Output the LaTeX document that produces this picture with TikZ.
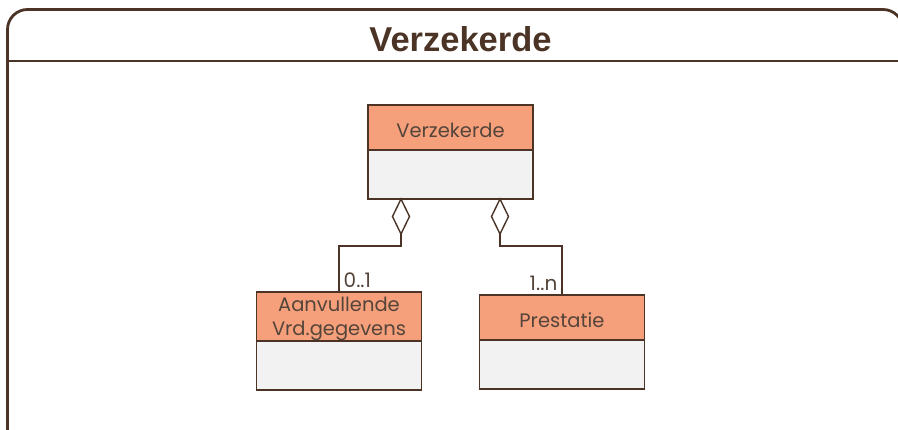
\documentclass[tikz,border=0pt]{standalone}
\usepackage{fontspec}
\setmainfont{Poppins}
\newfontfamily\titlefont{Liberation Sans}
\usetikzlibrary{positioning,shapes.geometric}
\definecolor{umlbrown}{HTML}{4B3425}
\definecolor{umltext}{HTML}{54443A}
\definecolor{umlsalmon}{HTML}{F5A07B}
\definecolor{umlgrey}{HTML}{F2F2F2}

\begin{document}
\begin{tikzpicture}[
        x=1pt, y=-1pt,
        node distance=0pt,
        classhead/.style={rectangle, draw=umlbrown, fill=umlsalmon, line width=1.4pt, outer sep=0pt,
            minimum width=165pt, minimum height=45pt, inner sep=0pt, text height=20pt,
            text=umltext, font=\fontsize{19.5}{24}\selectfont, align=center},
        classbody/.style={rectangle, draw=umlbrown, fill=umlgrey, line width=1.4pt, outer sep=0pt,
            minimum width=165pt, minimum height=49pt, inner sep=0pt},
        aggr/.style={diamond, draw=umlbrown, fill=white, line width=1.4pt, outer sep=0pt,
            minimum width=17pt, minimum height=35pt, inner sep=0pt},
        link/.style={draw=umlbrown, line width=1.4pt},
        mult/.style={text=umltext, font=\fontsize{20}{22}\selectfont, inner sep=4pt}
    ]
        \clip (0,0) rectangle (898,430);
        % frame
        \draw[umlbrown, line width=2.8pt, rounded corners=20pt] (7.5,450) -- (7.5,9.5) -- (903,9.5) -- (903,450);
        \draw[umlbrown, line width=2.8pt] (7.5,61) -- (903,61);
        \node[text=umlbrown, font=\titlefont\bfseries\fontsize{34.5}{36}\selectfont, anchor=base] (title) at (460.5,52) {Verzekerde};

        % classes
        \node[classhead] (verzHead) at (450.5,127.5) {Verzekerde};
        \node[classbody] (verzBody) [below=of verzHead] {};
        \node[classhead, text height=44pt] (aanvHead) at (339,316.5) {Aanvullende\\Vrd.gegevens};
        \node[classbody] (aanvBody) [below=of aanvHead] {};
        \node[classhead] (prestHead) at (562,317.5) {Prestatie};
        \node[classbody] (prestBody) [below=of prestHead] {};

        % aggregations
        \node[aggr] (aggrL) [below=of verzBody.south west, xshift=33pt] {};
        \node[aggr] (aggrR) [below=of verzBody.south east, xshift=-33pt] {};

        \path[link]
            (aggrL.south) -- ++(0,12) -| (aanvHead.north) node[mult, anchor=south west] {0..1}
            (aggrR.south) -- ++(0,12) -| (prestHead.north) node[mult, anchor=south east] {1..n};
    \end{tikzpicture}
\end{document}
